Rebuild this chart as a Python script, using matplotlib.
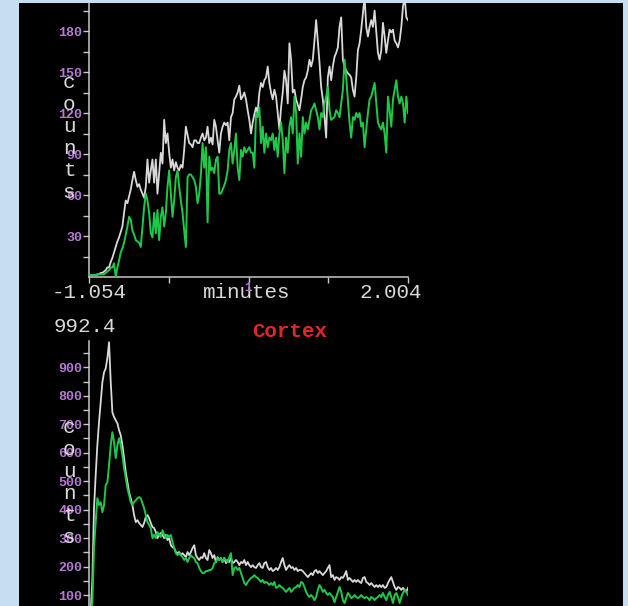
import numpy as np
import matplotlib
matplotlib.use("Agg")
import matplotlib.pyplot as plt
from matplotlib.patches import Rectangle

# ---------------- data ----------------
t_start, t_end = -1.054, 2.004
n_samples = 192

top_white = [1.5,1.5,1.5,1.5,1.5,2,2,3,3,4,
             5,7,7,11,14,18,22,26,29,33,
             37,47,56,54,59,64,71,77,71,66,
             68,64,61,58,66,86,69,78,86,69,
             86,61,76,91,83,115,98,105,91,80,
             86,78,84,80,78,82,80,93,110,104,
             98,97,95,100,100,98,98,102,105,100,
             102,110,98,102,97,115,110,100,91,105,
             110,113,111,113,100,117,120,130,132,135,
             140,130,132,135,130,122,115,105,113,119,
             124,120,135,142,139,144,146,154,142,135,
             130,137,132,120,108,124,135,151,144,127,
             171,159,135,137,130,126,122,130,139,144,
             146,151,159,154,159,173,188,173,157,139,
             130,117,102,146,154,144,154,161,164,168,
             183,190,159,154,151,149,148,146,137,132,
             146,166,171,181,193,205,183,176,183,188,
             183,195,179,164,159,166,186,176,164,173,
             181,179,181,173,171,168,173,183,198,205,
             190,188]

top_green = [1.5,1.5,1.5,1.5,1.5,1.5,2,2,2,2,
             3,4,5,7,7,10,0,7,12,18,
             21,25,31,37,44,42,34,31,27,26,
             25,22,37,51,61,56,47,32,29,47,
             32,49,27,44,51,37,47,66,78,61,
             44,56,73,78,66,56,47,34,22,73,
             75,75,73,71,66,54,61,75,98,80,
             95,40,88,78,80,76,86,88,61,61,
             64,67,71,78,93,98,83,93,105,80,
             71,93,88,95,91,93,95,91,91,80,
             120,117,124,98,110,91,105,95,102,100,
             105,93,102,88,105,113,100,76,102,91,
             110,117,105,132,120,83,105,88,117,105,
             113,108,115,122,124,127,122,117,108,120,
             117,127,132,139,122,115,116,117,122,120,
             117,127,137,159,146,130,113,102,117,115,
             120,117,120,110,113,95,108,120,130,132,
             137,142,127,113,110,108,113,105,91,132,
             122,110,130,137,144,132,127,132,127,113,
             132,120]

cortex_white = [40,40,150,405,521,626,707,777,847,882,
                896,932,988,850,742,725,714,703,679,661,
                626,581,532,496,461,440,416,381,356,363,
                353,346,339,353,374,381,370,353,339,335,
                321,300,311,318,311,300,311,293,300,275,
                268,265,251,247,251,240,247,240,233,251,
                240,251,265,275,240,230,223,233,230,247,
                230,223,258,247,230,240,216,233,223,230,
                216,230,212,223,216,230,212,216,223,216,
                205,216,212,223,205,216,205,198,205,198,
                195,205,212,198,195,212,216,198,188,195,
                184,188,195,188,198,216,230,205,188,198,
                205,195,198,188,195,184,188,188,184,177,
                170,163,170,177,170,184,188,177,184,177,
                170,177,184,195,205,163,170,153,163,160,
                153,163,160,170,184,153,160,153,146,153,
                146,153,146,142,160,163,146,142,135,142,
                135,128,135,128,135,128,135,125,128,142,
                153,163,146,128,118,128,125,118,125,118,
                111,125]

cortex_green = [40,40,75,265,356,440,416,426,391,416,
                486,496,556,626,672,637,581,626,651,626,
                591,546,511,475,451,426,416,426,433,440,
                444,440,423,405,381,356,346,335,300,311,
                300,321,311,304,328,311,300,311,304,311,
                286,265,247,240,247,240,233,223,230,216,
                230,240,233,230,216,212,195,184,177,177,
                184,184,188,188,195,212,216,230,223,230,
                216,230,223,216,233,247,170,195,198,188,
                195,177,160,142,135,146,153,160,163,170,
                163,160,153,146,153,142,146,142,135,142,
                135,146,125,128,135,128,125,118,111,118,
                125,111,118,125,128,135,128,146,142,128,
                111,100,93,100,93,82,93,118,135,125,
                111,118,107,100,107,100,93,75,93,111,
                128,111,82,72,89,107,100,89,93,100,
                93,89,93,100,93,89,93,89,82,93,
                89,82,89,93,100,93,107,93,82,100,
                111,93,72,100,107,93,72,93,107,118,
                111,100]

top_yticks = [30, 60, 90, 120, 150, 180]
top_yminor = [15, 45, 75, 105, 135, 165, 195]
top_ymax = 200.5
cortex_yticks = [100, 200, 300, 400, 500, 600, 700, 800, 900]
cortex_yminor = [150, 250, 350, 450, 550, 650, 750, 850, 950]
cortex_ylim = (61.4, 992.4)

x_left_label = "-1.054"
x_right_label = "2.004"
x_title = "minutes"
y_title = "counts"
cortex_max_label = "992.4"
cortex_title = "Cortex"

# ---------------- style ----------------
W, H = 628, 606
BG = "#c5dff0"
WHITE = "#d9d9d9"
GREEN = "#1ec94a"
AXC = "#c8c8c8"
PURPLE = "#b57ad0"
RED = "#e02626"
MONO = "Liberation Mono"

def fx(px):
    return px / W

def fy(py):
    return 1 - py / H

fig = plt.figure(figsize=(W / 100, H / 100), dpi=100)
fig.patch.set_facecolor(BG)
fig.patches.append(Rectangle((fx(19), 0), fx(623) - fx(19), fy(3), transform=fig.transFigure,
                             facecolor="black", edgecolor="none", zorder=-10))

t = np.linspace(t_start, t_end, n_samples)

def style_axes(ax):
    ax.set_facecolor("none")
    for s in ("top", "right"):
        ax.spines[s].set_visible(False)
    for s in ("left", "bottom"):
        ax.spines[s].set_color(AXC)
        ax.spines[s].set_linewidth(1.1)
    ax.tick_params(axis="both", which="both", colors=AXC, length=4, width=1.0,
                   direction="out")
    ax.tick_params(axis="y", which="major", labelcolor=PURPLE, pad=1, labelsize=9.6)
    for lab in ax.get_yticklabels():
        lab.set_fontfamily(MONO)
        lab.set_fontweight("bold")

# ---- top panel ----
ax1 = fig.add_axes([fx(89), fy(277), fx(408) - fx(89), fy(3) - fy(277)])
ax1.plot(t, top_white, color=WHITE, lw=1.3, zorder=2)
ax1.plot(t, top_green, color=GREEN, lw=1.4, zorder=3)
ax1.set_xlim(t_start, t_end)
ax1.set_ylim(0, top_ymax)
ax1.set_yticks(top_yticks)
ax1.set_yticklabels([str(v) for v in top_yticks])
ax1.set_yticks(top_yminor, minor=True)
ax1.set_xticks(np.linspace(t_start, t_end, 5))
ax1.set_xticklabels([])
style_axes(ax1)
ax1.spines["bottom"].set_visible(True)

# ---- cortex panel ----
ax2 = fig.add_axes([fx(89), 0, fx(408) - fx(89), fy(341)])
ax2.plot(t, cortex_white, color=WHITE, lw=1.3, zorder=2)
ax2.plot(t, cortex_green, color=GREEN, lw=1.4, zorder=3)
ax2.set_xlim(t_start, t_end)
ax2.set_ylim(*cortex_ylim)
ax2.set_yticks(cortex_yticks)
ax2.set_yticklabels([str(v) for v in cortex_yticks])
ax2.set_yticks(cortex_yminor, minor=True)
ax2.set_xticks([])
style_axes(ax2)
ax2.spines["bottom"].set_visible(False)

# ---- texts ----
fig.text(fx(52), fy(298), x_left_label, color=WHITE, fontsize=15, family=MONO,
         ha="left", va="baseline")
fig.text(fx(247), fy(298), x_title, color=WHITE, fontsize=15, family=MONO,
         ha="center", va="baseline")
fig.text(fx(422), fy(298), x_right_label, color=WHITE, fontsize=15, family=MONO,
         ha="right", va="baseline")
fig.text(fx(248), fy(282), "1", color=PURPLE, fontsize=9, family=MONO,
         fontweight="bold", ha="center", va="top")
fig.text(fx(54), fy(332), cortex_max_label, color=WHITE, fontsize=15, family=MONO,
         ha="left", va="baseline")
fig.text(fx(290), fy(337), cortex_title, color=RED, fontsize=15, family=MONO,
         fontweight="bold", ha="center", va="baseline")

for base in (88, 433):
    for i, ch in enumerate(y_title):
        fig.text(fx(69), fy(base + 22 * i), ch, color=WHITE, fontsize=15, family=MONO,
                 ha="center", va="baseline", zorder=5)

fig.savefig("out.png", dpi=100, facecolor=BG)
